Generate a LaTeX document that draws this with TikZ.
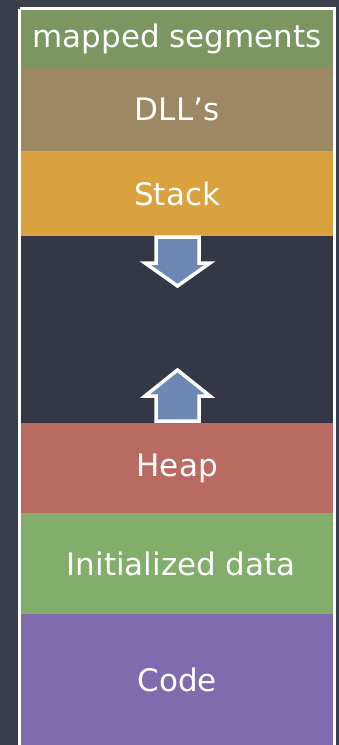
\documentclass[tikz,border=0pt]{standalone}
\usepackage{fontspec}
\setmainfont{DejaVu Sans}
\definecolor{bgc}{HTML}{3B3F4C}
\definecolor{midc}{HTML}{343846}
\definecolor{mapc}{HTML}{7B9660}
\definecolor{dllc}{HTML}{9C8862}
\definecolor{stkc}{HTML}{D9A23E}
\definecolor{heapc}{HTML}{B96B62}
\definecolor{initc}{HTML}{82AD6A}
\definecolor{codec}{HTML}{7E6CAE}
\definecolor{arrc}{HTML}{6D88B5}
\begin{document}
\begin{tikzpicture}[x=1pt,y=-1pt,
  band/.style={anchor=north west, inner sep=0pt, minimum width=312pt, text=white,
    font=\fontsize{31}{32}\selectfont},
  growarrow/.style={fill=arrc, draw=white, line width=3.5pt, line join=miter}]
\fill[bgc] (0,0) rectangle (339,745);
\useasboundingbox (0,0) rectangle (339,745);
\draw[white, line width=3pt] (19.5,8.5) -- (334.5,8.5) -- (334.5,750) (19.5,8.5) -- (19.5,750);
\node[band, fill=mapc, minimum height=57pt] (map) at (21,10) {\raisebox{-2pt}{mapped segments}};
\node[band, fill=dllc, minimum height=84pt] (dll) at (21,67) {\raisebox{-2pt}{DLL’s}};
\node[band, fill=stkc, minimum height=85pt] (stack) at (21,151) {Stack};
\node[band, fill=midc, minimum height=187pt] (free) at (21,236) {};
\node[band, fill=heapc, minimum height=90pt] (heap) at (21,423) {\raisebox{-3pt}{Heap}};
\node[band, fill=initc, minimum height=101pt] (init) at (21,513) {\hspace*{8pt}Initialized data};
\node[band, fill=codec, minimum height=131pt] (code) at (21,614) {\raisebox{-3pt}{Code}};
\draw[growarrow] (156,237) -- (156,263) -- (145,263) -- (177.5,286) -- (210,263) -- (199,263) -- (199,237) -- cycle;
\draw[growarrow] (156,421) -- (156,396) -- (145,396) -- (177.5,370) -- (210,396) -- (199,396) -- (199,421) -- cycle;
\end{tikzpicture}
\end{document}
